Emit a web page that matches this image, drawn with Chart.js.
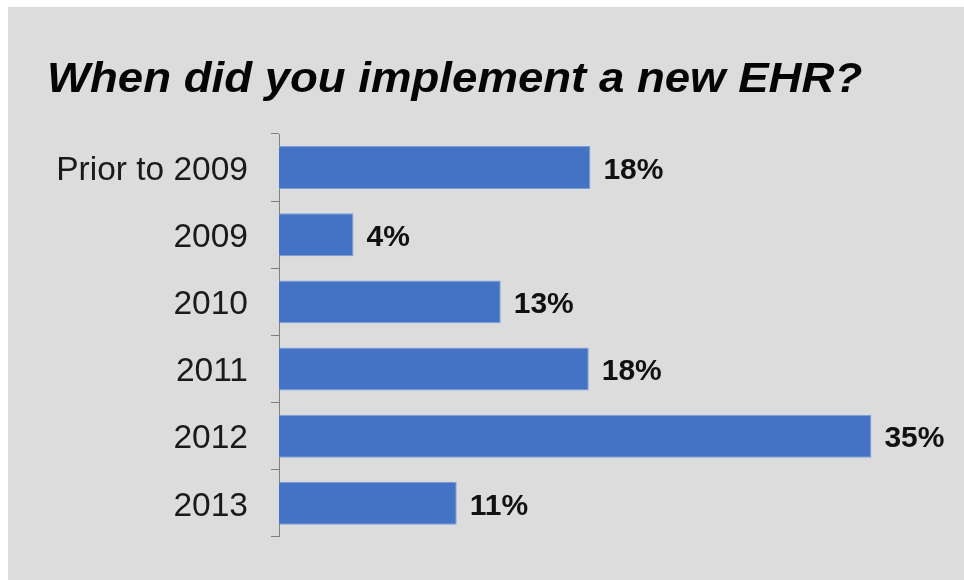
<!DOCTYPE html>
<html>
<head>
<meta charset="utf-8">
<script src="https://cdn.jsdelivr.net/npm/chart.js@4/dist/chart.umd.min.js"></script>
<style>
  html, body { margin:0; padding:0; background:#fff; }
  #wrap { position:absolute; left:8px; top:7px; width:956px; height:573px; background:#dcdcdc; }
  #chart { display:block; }
</style>
</head>
<body>
<div id="wrap"><canvas id="chart" width="956" height="573"></canvas></div>
<script>
// Datos de la gráfica
const chartTitle = 'When did you implement a new EHR?';
const categories = ['Prior to 2009', '2009', '2010', '2011', '2012', '2013'];
const shares = [18.4, 4.4, 13.1, 18.3, 35, 10.5];
const shareLabels = ['18%', '4%', '13%', '18%', '35%', '11%'];

const FONT = "'Liberation Sans', Arial, sans-serif";

// título (algo ensanchado, como en la imagen original)
const titlePlugin = {
  id: 'titleText',
  afterDraw(chart){
    const ctx = chart.ctx;
    ctx.save();
    ctx.font = 'italic bold 42px ' + FONT;
    ctx.fillStyle = '#050505';
    ctx.textBaseline = 'alphabetic';
    ctx.textAlign = 'left';
    ctx.translate(39, 85);
    ctx.scale(1.085, 1);
    ctx.fillText(chartTitle, 0, 0);
    ctx.restore();
  }
};

const valueLabels = {
  id: 'valueLabels',
  afterDatasetsDraw(chart){
    const ctx = chart.ctx;
    const meta = chart.getDatasetMeta(0);
    ctx.save();
    ctx.font = 'bold 30px ' + FONT;
    ctx.fillStyle = '#111';
    ctx.textBaseline = 'middle';
    ctx.textAlign = 'left';
    meta.data.forEach((bar, i) => {
      ctx.fillText(shareLabels[i], bar.x + 13, bar.y + 3);
    });
    ctx.restore();
  }
};

new Chart(document.getElementById('chart'), {
  type: 'bar',
  data: {
    labels: categories,
    datasets: [{
      data: shares,
      backgroundColor: '#4472c4',
      borderColor: '#7aa0dc',
      borderWidth: 1,
      barPercentage: 0.8,
      categoryPercentage: 0.8
    }]
  },
  options: {
    indexAxis: 'y',
    responsive: false,
    animation: false,
    layout: { padding: { top: 127, bottom: 37, right: 8, left: 0 } },
    plugins: { legend: { display:false }, title: { display:false }, tooltip: { enabled:false } },
    scales: {
      x: { display:false, min:0, max:40 },
      y: {
        afterFit(s){ s.width = 271; },
        border: { display:true, color:'#7f7f7f', width:1 },
        grid: { display:true, drawOnChartArea:false, tickLength:8, color:'#7f7f7f', offset:true },
        ticks: { color:'#1a1a1a', padding:23, labelOffset:3, font:{ family:FONT, size:33.5 } }
      }
    }
  },
  plugins: [titlePlugin, valueLabels]
});
</script>
</body>
</html>
